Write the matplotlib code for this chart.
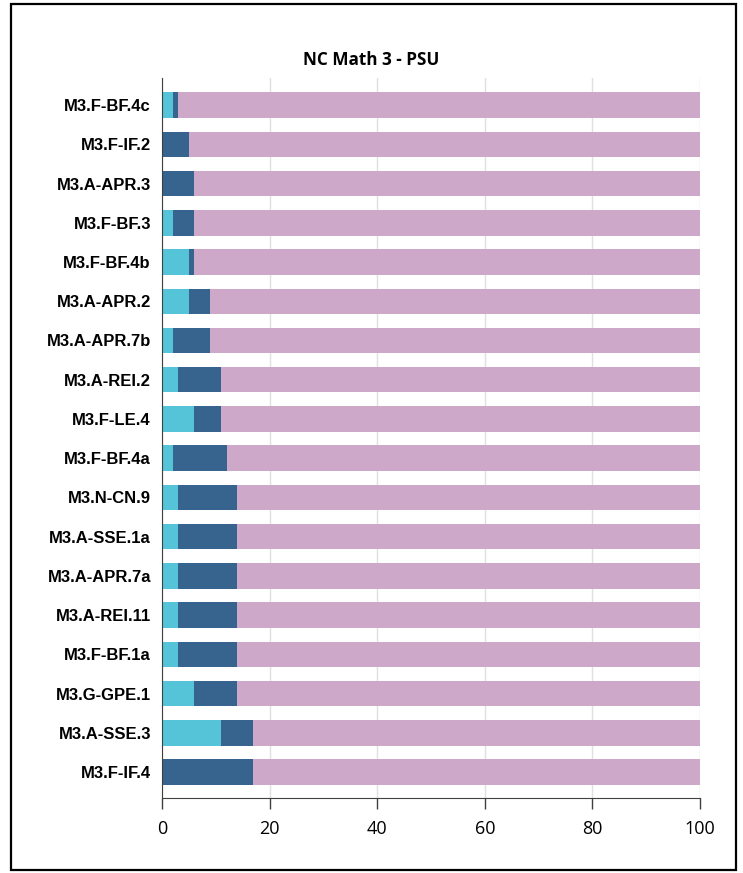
import numpy as np
import matplotlib
matplotlib.use("Agg")
import matplotlib.pyplot as plt
import matplotlib.patches as mpatches

# categories, top to bottom
standards = [
    "M3.F-BF.4c", "M3.F-IF.2", "M3.A-APR.3", "M3.F-BF.3", "M3.F-BF.4b",
    "M3.A-APR.2", "M3.A-APR.7b", "M3.A-REI.2", "M3.F-LE.4", "M3.F-BF.4a",
    "M3.N-CN.9", "M3.A-SSE.1a", "M3.A-APR.7a", "M3.A-REI.11", "M3.F-BF.1a",
    "M3.G-GPE.1", "M3.A-SSE.3", "M3.F-IF.4",
]
seg_cyan = [2, 0, 0, 2, 5, 5, 2, 3, 6, 2, 3, 3, 3, 3, 3, 6, 11, 0]
seg_dark = [1, 5, 6, 4, 1, 4, 7, 8, 5, 10, 11, 11, 11, 11, 11, 8, 6, 17]
seg_pink = [97, 95, 94, 94, 94, 91, 91, 89, 89, 88, 86, 86, 86, 86, 86, 86, 83, 83]
xticks = [0, 20, 40, 60, 80, 100]

c_cyan = "#55C4D8"
c_dark = "#36648E"
c_pink = "#CDA8C8"

fig = plt.figure(figsize=(7.43, 8.73), dpi=100)
ax = fig.add_axes([162 / 743, 1 - 798 / 873, 538 / 743, 720 / 873])

y = np.arange(len(standards))
cyan = np.array(seg_cyan)
dark = np.array(seg_dark)
pink = np.array(seg_pink)
h = 0.65
ax.barh(y, cyan, height=h, color=c_cyan, zorder=2)
ax.barh(y, dark, left=cyan, height=h, color=c_dark, zorder=2)
ax.barh(y, pink, left=cyan + dark, height=h, color=c_pink, zorder=2)

ax.set_xlim(0, 100)
ax.set_ylim(17.66, -0.69)
ax.set_xticks(xticks)
ax.set_xticklabels([str(t) for t in xticks], fontsize=13, family="Open Sans")
ax.set_yticks(y)
ax.set_yticklabels(standards, fontsize=12, fontweight="bold", family="Liberation Sans")
ax.tick_params(axis="y", length=0, pad=8)
ax.tick_params(axis="x", length=8, width=1, color="#404040", pad=8)

ax.grid(axis="x", color="#E0E0E0", linewidth=1, zorder=0)
for s in ["top", "right"]:
    ax.spines[s].set_visible(False)
ax.spines["left"].set_color("#404040")
ax.spines["bottom"].set_color("#404040")

fig.text(0.5, 1 - 60 / 873, "NC Math 3 - PSU", ha="center", va="center",
         fontsize=12.3, fontweight="bold", family="Open Sans")

# outer frame
fig.patches.append(mpatches.Rectangle(
    (11 / 743, 3 / 873), 725 / 743, 866 / 873,
    transform=fig.transFigure, fill=False, edgecolor="black", linewidth=1.6))

fig.savefig("out.png", dpi=100)
